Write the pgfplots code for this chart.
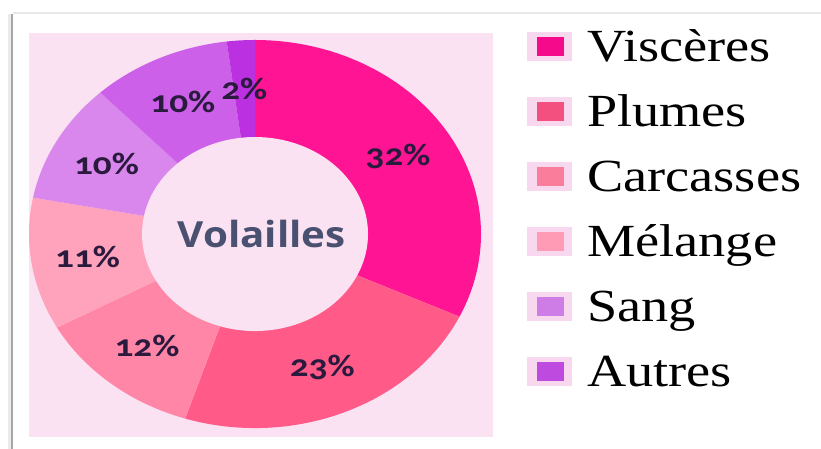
\documentclass[border=0pt]{standalone}
\usepackage{pgfplots}
\pgfplotsset{compat=1.18}
\usepackage{pgfplotstable}
\usepackage{fontspec}
\setmainfont{Liberation Serif}
\newfontfamily\legfont[FakeStretch=1.18]{Liberation Serif}
\newfontfamily\labfont[FakeStretch=1.2,RawFeature=+onum]{Carlito}
\newfontfamily\ctrfont[FakeStretch=1.12]{Open Sans}

\definecolor{panel}{HTML}{FAE2F3}
\definecolor{slice0}{HTML}{FF1493}
\definecolor{slice1}{HTML}{FF5A88}
\definecolor{slice2}{HTML}{FF86A6}
\definecolor{slice3}{HTML}{FFA2BC}
\definecolor{slice4}{HTML}{D987EC}
\definecolor{slice5}{HTML}{CC60E8}
\definecolor{slice6}{HTML}{BB30E0}
\definecolor{leg0}{HTML}{F50A8C}
\definecolor{leg1}{HTML}{F34F7F}
\definecolor{leg2}{HTML}{FA7D9C}
\definecolor{leg3}{HTML}{FF9BB5}
\definecolor{leg4}{HTML}{CF7DE6}
\definecolor{leg5}{HTML}{BF4AE0}
\definecolor{legbox}{HTML}{F8D8EE}
\definecolor{labtext}{HTML}{2A1A3E}
\definecolor{ctrtext}{HTML}{4A5070}

% slice values (percent), clockwise from the top
\pgfplotstableread{
idx value
0 32
1 23
2 12
3 11
4 10
5 10
6 2
}\donutdata

\begin{document}
\begin{tikzpicture}
\path[use as bounding box] (0pt,0pt) rectangle (821pt,-449pt);
% frame lines
\fill[black!8] (8pt,-14pt) rectangle (10.5pt,-449pt);
\fill[black!35] (10.5pt,-14pt) rectangle (12.5pt,-449pt);
\fill[black!9] (12.5pt,-12.5pt) rectangle (821pt,-14.5pt);

\gdef\cum{0}
\foreach \i in {0,...,6}{
  \pgfplotstablegetelem{\i}{value}\of\donutdata
  \let\curval\pgfplotsretval
  \pgfmathsetmacro\angA{90-3.6*\cum}
  \pgfmathsetmacro\nc{\cum+\curval}
  \pgfmathsetmacro\angB{90-3.6*\nc}
  \pgfmathsetmacro\angM{(\angA+\angB)/2}
  \pgfmathsetmacro\lx{0.75*cos(\angM)}
  \pgfmathsetmacro\ly{0.75*sin(\angM)}
  \expandafter\xdef\csname sa\i\endcsname{\angA}
  \expandafter\xdef\csname sb\i\endcsname{\angB}
  \expandafter\xdef\csname lx\i\endcsname{\lx}
  \expandafter\xdef\csname ly\i\endcsname{\ly}
  \expandafter\xdef\csname pv\i\endcsname{\curval}
  \xdef\cum{\nc}
}

\begin{axis}[
  at={(29pt,-33pt)}, anchor=north west,
  scale only axis, width=464pt, height=404pt,
  xmin=-1.0, xmax=1.053, ymin=-1.046, ymax=1.036,
  axis line style={draw=none}, ticks=none, clip=false,
  axis background/.style={fill=panel},
  legend image code/.code={
    \fill[legbox] (0pt,-14.5pt) rectangle (45pt,14.5pt);
    \fill[#1] (10pt,-10pt) rectangle (37pt,9.5pt);
  },
  legend style={at={(1.0733,1.006)}, anchor=north west, draw=none, fill=none,
    inner sep=0pt, row sep=34pt, column sep=15pt,
    font=\legfont\fontsize{46}{50}\selectfont,
    nodes={inner sep=0pt, text height=31pt, text depth=0pt}},
  legend cell align=left,
]
\pgfplotsinvokeforeach{0,...,6}{
  \addplot[draw=none, fill=slice#1, forget plot, samples=60,
    domain={\csname sb#1\endcsname}:{\csname sa#1\endcsname}]
    ({cos(x)},{sin(x)}) -- (axis cs:0,0) -- cycle;
  \node[font=\labfont\bfseries\fontsize{31}{33}\selectfont, text=labtext]
    at (axis cs:\csname lx#1\endcsname,\csname ly#1\endcsname)
    {\csname pv#1\endcsname\%};
}
\addplot[draw=none, fill=panel, forget plot, samples=120, domain=0:360]
  ({0.5*cos(x)},{0.5*sin(x)}) -- cycle;
\node[font=\ctrfont\bfseries\fontsize{36}{40}\selectfont, text=ctrtext]
  at (axis cs:0.03,0) {Volailles};

\addlegendimage{draw=none, fill=leg0}
\addlegendimage{draw=none, fill=leg1}
\addlegendimage{draw=none, fill=leg2}
\addlegendimage{draw=none, fill=leg3}
\addlegendimage{draw=none, fill=leg4}
\addlegendimage{draw=none, fill=leg5}
\legend{Viscères, Plumes, Carcasses, Mélange, Sang, Autres}
\end{axis}
\end{tikzpicture}
\end{document}
